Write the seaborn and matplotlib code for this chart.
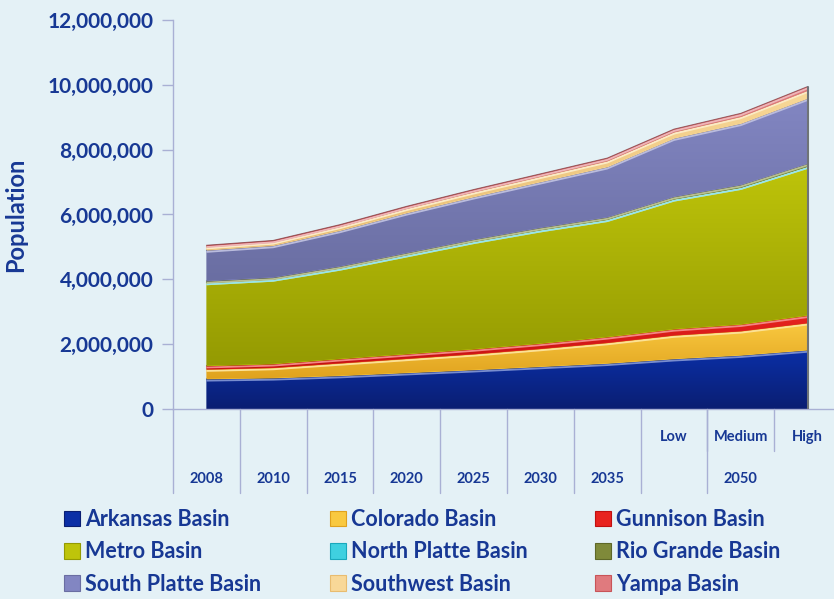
import numpy as np
import pandas as pd
import matplotlib
matplotlib.use("Agg")
import matplotlib.pyplot as plt
import matplotlib.transforms as mtransforms
from matplotlib.colors import LinearSegmentedColormap, to_rgb
from matplotlib.patches import Patch
import seaborn as sns

# categories (2050 has three scenarios)
periods = ["2008", "2010", "2015", "2020", "2025", "2030", "2035", "Low", "Medium", "High"]
years = ["2008", "2010", "2015", "2020", "2025", "2030", "2035"]
scenarios = ["Low", "Medium", "High"]

# population by basin
arkansas = [930000, 960000, 1030000, 1120000, 1210000, 1310000, 1410000, 1550000, 1660000, 1820000]
colorado = [300000, 320000, 390000, 440000, 490000, 555000, 640000, 730000, 750000, 840000]
gunnison = [105000, 115000, 130000, 140000, 150000, 160000, 175000, 190000, 205000, 230000]
metro = [2565000, 2615000, 2800000, 3060000, 3320000, 3505000, 3625000, 4010000, 4225000, 4600000]
north_platte = [1500, 1500, 1600, 1700, 1700, 1800, 1800, 1900, 2000, 2100]
rio_grande = [50000, 52000, 56000, 60000, 63000, 66000, 70000, 72000, 79000, 84000]
south_platte = [950000, 980000, 1100000, 1230000, 1310000, 1410000, 1550000, 1800000, 1890000, 2010000]
southwest = [105000, 110000, 125000, 140000, 155000, 170000, 185000, 195000, 215000, 245000]
yampa = [45000, 47000, 55000, 62000, 70000, 76000, 83000, 85000, 95000, 115000]

basins = ["Arkansas Basin", "Colorado Basin", "Gunnison Basin", "Metro Basin",
          "North Platte Basin", "Rio Grande Basin", "South Platte Basin",
          "Southwest Basin", "Yampa Basin"]

df = pd.DataFrame({
    "Arkansas Basin": arkansas,
    "Colorado Basin": colorado,
    "Gunnison Basin": gunnison,
    "Metro Basin": metro,
    "North Platte Basin": north_platte,
    "Rio Grande Basin": rio_grande,
    "South Platte Basin": south_platte,
    "Southwest Basin": southwest,
    "Yampa Basin": yampa,
}, index=periods)

# (top colour, bottom colour) for the gradients
colors = {
    "Arkansas Basin": ("#0B2FA6", "#0A1E72"),
    "Colorado Basin": ("#F9C940", "#E0A21E"),
    "Gunnison Basin": ("#E8231F", "#C01010"),
    "Metro Basin": ("#BEC40A", "#949A02"),
    "North Platte Basin": ("#3FD0E0", "#1AA8BC"),
    "Rio Grande Basin": ("#7F8A3A", "#5E6828"),
    "South Platte Basin": ("#8286C2", "#6A6EA2"),
    "Southwest Basin": ("#F8D898", "#E8BC70"),
    "Yampa Basin": ("#E07A7E", "#C85458"),
}

text_color = "#173894"
bg = "#E4F1F6"
axis_color = "#A9B0D4"

sns.set_theme(style="white")
plt.rcParams["font.family"] = ["Lato", "DejaVu Sans"]
plt.rcParams["font.weight"] = "bold"

fig = plt.figure(figsize=(8.34, 5.99), dpi=100)
fig.patch.set_facecolor(bg)
ax = fig.add_axes([173 / 834, 1 - 409 / 599, 668 / 834, 389 / 599])
ax.set_facecolor(bg)

x = np.arange(len(periods))
cum = df.cumsum(axis=1)
lower = np.zeros(len(periods))
grad = np.linspace(0, 1, 256).reshape(-1, 1)

for i, name in enumerate(basins):
    upper = cum[name].values
    top_c, bot_c = colors[name]
    poly = ax.fill_between(x, lower, upper, color=top_c, lw=0, zorder=2 + i * 0.1)
    cmap = LinearSegmentedColormap.from_list(name, [bot_c, top_c])
    im = ax.imshow(grad, cmap=cmap, origin="lower", aspect="auto",
                   extent=[x[0], x[-1], lower.min(), upper.max()],
                   zorder=2 + i * 0.1, interpolation="bilinear")
    im.set_clip_path(poly.get_paths()[0], ax.transData)
    # bevel: light line just under the top edge, dark edge above it
    light = tuple(min(1, c * 0.55 + 0.45) for c in to_rgb(top_c))
    dark = tuple(c * 0.6 for c in to_rgb(bot_c))
    shifted = mtransforms.offset_copy(ax.transData, fig=fig, x=0, y=-1.3, units="points")
    ax.plot(x, upper, color=light, lw=1.3, transform=shifted, zorder=2.05 + i * 0.1,
            solid_capstyle="butt")
    sns.lineplot(x=x, y=upper, ax=ax, color=dark, lw=0.7, zorder=2.06 + i * 0.1,
                 alpha=0.7, estimator=None)
    lower = upper

total = cum[basins[-1]].values
ax.plot([x[-1], x[-1]], [0, total[-1]], color="#6F7478", lw=1.5, zorder=4)

ax.set_xlim(-0.5, len(periods) - 0.5)
ax.set_ylim(0, 12000000)
ax.set_yticks(np.arange(0, 12000001, 2000000))
ax.set_yticklabels([f"{v:,}" for v in range(0, 12000001, 2000000)],
                   fontsize=15, color=text_color, fontweight="bold")
ax.tick_params(axis="y", length=8, width=1, color=axis_color, pad=6, direction="out", left=True)
ax.set_xticks([])
ax.set_ylabel("Population", fontsize=17, color=text_color, fontweight="bold")
ax.yaxis.set_label_coords((27 - 173) / 668, 0.5)
for side in ["top", "right"]:
    ax.spines[side].set_visible(False)
for side in ["left", "bottom"]:
    ax.spines[side].set_color(axis_color)
    ax.spines[side].set_linewidth(1)

# two-level category axis
xt = ax.get_xaxis_transform()
h = 389.0
y_years = -(479 - 409) / h
y_scen = -(437 - 409) / h
y_end = -(493 - 409) / h
y_mid = -(451 - 409) / h
for i, lab in enumerate(years):
    ax.text(i, y_years, lab, transform=xt, ha="center", va="center",
            fontsize=10.5, color=text_color, fontweight="bold")
for j, lab in enumerate(scenarios):
    ax.text(len(years) + j, y_scen, lab, transform=xt, ha="center", va="center",
            fontsize=10.5, color=text_color, fontweight="bold")
ax.text(len(years) + 1, y_years, "2050", transform=xt, ha="center", va="center",
        fontsize=10.5, color=text_color, fontweight="bold")
for b in np.arange(-0.5, len(years) + 0.5 + 1e-9, 1.0):
    ax.plot([b, b], [0, y_end], transform=xt, color=axis_color, lw=1, clip_on=False)
for b in [len(years) + 0.5, len(years) + 1.5]:
    ax.plot([b, b], [0, y_mid], transform=xt, color=axis_color, lw=1, clip_on=False)

# legend: three columns, one legend per column
columns = [[0, 3, 6], [1, 4, 7], [2, 5, 8]]
col_x = [64, 330, 595]
for col, cx in zip(columns, col_x):
    handles = [Patch(facecolor=colors[basins[k]][0], edgecolor=colors[basins[k]][1], lw=0.8)
               for k in col]
    labels = [basins[k] for k in col]
    leg = fig.legend(handles, labels, loc="upper left",
                     bbox_to_anchor=(cx / 834, 1 - 509 / 599), frameon=False,
                     fontsize=15.5, handlelength=0.74, handleheight=0.74,
                     handletextpad=0.25, labelspacing=0.53, borderpad=0,
                     borderaxespad=0)
    for t in leg.get_texts():
        t.set_color(text_color)
        t.set_fontweight("bold")

fig.savefig("out.png", dpi=100, facecolor=bg)
